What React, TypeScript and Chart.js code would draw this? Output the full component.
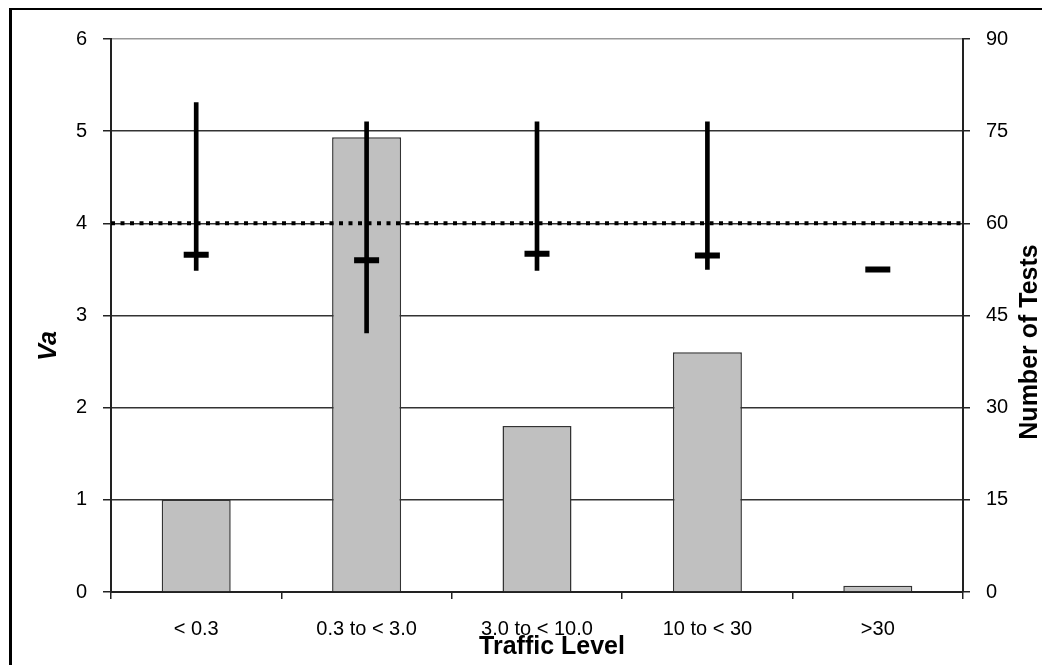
import React, { useEffect, useRef } from "react";
import { Chart, registerables } from "chart.js";

Chart.register(...registerables);

// ---- data ----
const categories = ["< 0.3", "0.3 to < 3.0", "3.0 to < 10.0", "10 to < 30", ">30"];
const numberOfTests = [15, 74, 27, 39, 1];
const vaLow = [3.49, 2.81, 3.49, 3.5, null];
const vaHigh = [5.31, 5.1, 5.1, 5.1, null];
const vaMean = [3.66, 3.6, 3.67, 3.65, 3.5];
const vaLimit = 4;
const leftTickMin = 0;
const leftTickMax = 6;
const leftTickStep = 1;
const rightTickMin = 0;
const rightTickMax = 90;
const rightTickStep = 15;
const xTitle = "Traffic Level";
const leftTitle = "Va";
const rightTitle = "Number of Tests";

const TICK_FONT = { family: "'Liberation Sans', Arial, sans-serif", size: 20 };
const TITLE_FONT = "bold 25px 'Liberation Sans', Arial, sans-serif";
const TITLE_FONT_ITALIC = "italic bold 25px 'Liberation Sans', Arial, sans-serif";

const overlayPlugin = {
  id: "overlay",
  afterDatasetDraw(chart: any, args: any) {
    if (args.index !== 0) return;
    const ctx = chart.ctx;
    const y = chart.scales.y.getPixelForValue(vaLimit);
    const { left, right } = chart.chartArea;
    ctx.save();
    ctx.strokeStyle = "#000";
    ctx.lineWidth = 4;
    ctx.setLineDash([4, 5.5]);
    ctx.beginPath();
    ctx.moveTo(left, y);
    ctx.lineTo(right, y);
    ctx.stroke();
    ctx.restore();
  },
  afterDraw(chart: any) {
    const ctx = chart.ctx;
    ctx.save();
    ctx.fillStyle = "#000";
    ctx.textAlign = "center";
    ctx.textBaseline = "middle";
    // x title
    ctx.font = TITLE_FONT;
    ctx.fillText(xTitle, 540, 637);
    // left title
    ctx.save();
    ctx.translate(37, 336);
    ctx.rotate(-Math.PI / 2);
    ctx.font = TITLE_FONT_ITALIC;
    ctx.fillText(leftTitle, 0, 0);
    ctx.restore();
    // right title
    ctx.save();
    ctx.translate(1018, 332);
    ctx.rotate(-Math.PI / 2);
    ctx.font = TITLE_FONT;
    ctx.fillText(rightTitle, 0, 0);
    ctx.restore();
    ctx.restore();
  },
};

export default function App() {
  const ref = useRef<HTMLCanvasElement | null>(null);

  useEffect(() => {
    if (!ref.current) return;
    const errorData = vaLow.map((lo, i) => (lo === null || vaHigh[i] === null ? null : [lo, vaHigh[i]]));
    const chart = new Chart(ref.current, {
      type: "bar",
      data: {
        labels: categories,
        datasets: [
          {
            type: "bar",
            label: "Number of Tests",
            data: numberOfTests,
            yAxisID: "y1",
            backgroundColor: "#c0c0c0",
            borderColor: "#333",
            borderWidth: 1.5,
            barPercentage: 0.405,
            categoryPercentage: 1,
            grouped: false,
            order: 3,
          } as any,
          {
            type: "bar",
            label: "Va range",
            data: errorData as any,
            yAxisID: "y",
            backgroundColor: "#000",
            borderWidth: 0,
            barThickness: 4,
            grouped: false,
            order: 2,
          } as any,
          {
            type: "line",
            label: "Va mean",
            data: vaMean,
            yAxisID: "y",
            showLine: false,
            pointStyle: "line",
            pointRadius: 12.5,
            pointBorderWidth: 6,
            pointBorderColor: "#000",
            borderColor: "#000",
            order: 1,
          } as any,
        ],
      },
      options: {
        animation: false,
        responsive: false,
        layout: { padding: { top: 29, left: 0, right: 0, bottom: 0 } },
        plugins: { legend: { display: false }, tooltip: { enabled: false } },
        scales: {
          x: {
            type: "category",
            offset: true,
            grid: {
              display: true,
              drawOnChartArea: false,
              drawTicks: true,
              tickLength: 7,
              offset: true,
              color: "#222",
              lineWidth: 1.5,
            },
            border: { display: true, color: "#222", width: 2 },
            ticks: { color: "#000", font: TICK_FONT, padding: 18, maxRotation: 0, autoSkip: false },
            afterFit: (s: any) => {
              s.height = 73;
            },
          },
          y: {
            position: "left",
            min: leftTickMin,
            max: leftTickMax,
            ticks: { stepSize: leftTickStep, color: "#000", font: TICK_FONT, padding: 16 },
            grid: {
              color: (c: any) => (c.tick && c.tick.value === leftTickMax ? "#999" : "#333"),
              tickColor: "#222",
              lineWidth: 1.5,
              tickLength: 8,
            },
            border: { display: true, color: "#222", width: 2 },
            afterFit: (s: any) => {
              s.width = 99;
            },
          },
          y1: {
            position: "right",
            min: rightTickMin,
            max: rightTickMax,
            ticks: { stepSize: rightTickStep, color: "#000", font: TICK_FONT, padding: 16 },
            grid: { drawOnChartArea: false, color: "#222", lineWidth: 1.5, tickLength: 7 },
            border: { display: true, color: "#222", width: 2 },
            afterFit: (s: any) => {
              s.width = 85;
            },
          },
        },
      },
      plugins: [overlayPlugin],
    });
    return () => chart.destroy();
  }, []);

  return (
    <div
      style={{
        marginLeft: 1,
        marginTop: -1,
        borderTop: "3px solid #000",
        borderLeft: "3px solid #000",
        width: 1036,
        height: 655,
        background: "#fff",
      }}
    >
      <canvas ref={ref} width={1036} height={655} style={{ display: "block" }} />
    </div>
  );
}
